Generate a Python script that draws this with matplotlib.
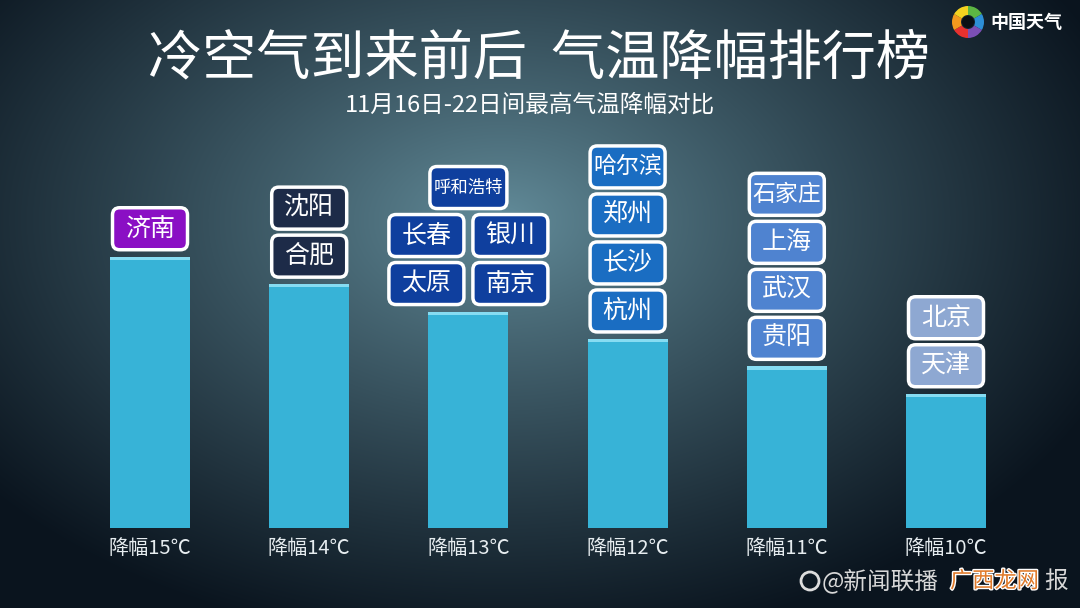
import numpy as np
import matplotlib
matplotlib.use("Agg")
import matplotlib.pyplot as plt
from matplotlib.patches import FancyBboxPatch, Wedge, Circle
import matplotlib.patheffects as pe

plt.rcParams['font.family'] = ['Noto Sans CJK SC', 'DejaVu Sans']

# data
drops = [15, 14, 13, 12, 11, 10]
bottom_labels = ['降幅15℃', '降幅14℃', '降幅13℃', '降幅12℃', '降幅11℃', '降幅10℃']
# city boxes above each bar, rows listed from top to bottom
city_rows = [
    [['济南']],
    [['沈阳'], ['合肥']],
    [['呼和浩特'], ['长春', '银川'], ['太原', '南京']],
    [['哈尔滨'], ['郑州'], ['长沙'], ['杭州']],
    [['石家庄'], ['上海'], ['武汉'], ['贵阳']],
    [['北京'], ['天津']],
]
box_colors = ['#8a0fc4', '#1d2b48', '#0f3f9e', '#1a6dc2', '#4f83d0', '#8ea8d2']

title = '冷空气到来前后  气温降幅排行榜'
subtitle = '11月16日-22日间最高气温降幅对比'

W, H = 1080, 608
fig = plt.figure(figsize=(W / 100, H / 100), dpi=100)

# background radial glow
bg = fig.add_axes([0, 0, 1, 1])
yy, xx = np.mgrid[0:H, 0:W]
d = np.sqrt(((xx - 500) / 660.0) ** 2 + ((yy - 220) / 430.0) ** 2)
t = np.clip(d, 0, 1) ** 0.85
c0 = np.array([100, 142, 156]) / 255.0
c1 = np.array([10, 20, 30]) / 255.0
img = c0[None, None, :] * (1 - t[..., None]) + c1[None, None, :] * t[..., None]
bg.imshow(img, extent=[0, W, H, 0], aspect='auto')
bg.set_xlim(0, W)
bg.set_ylim(H, 0)
bg.axis('off')

# main axes: x = category index, y = degrees
px_x = 159.2   # pixels per category
px_y = 27.4    # pixels per degree
base = 5.1
ax = fig.add_axes([0, 0, 1, 1])
ax.patch.set_alpha(0)
ax.set_xlim(-150 / px_x, (W - 150) / px_x)
ax.set_ylim(base - (H - 528) / px_y, base + 528 / px_y)
ax.axis('off')

x = np.arange(len(drops))
heights = [v - base for v in drops]
bar_w = 80 / px_x
ax.bar(x, heights, bottom=base, width=bar_w, color='#37b3d7', zorder=2)
ax.bar(x, [0.12] * len(drops), bottom=[v - 0.12 for v in drops], width=bar_w,
       color='#86dcf2', zorder=3)

for i, lab in enumerate(bottom_labels):
    ax.text(x[i], base - 20 / px_y, lab, ha='center', va='center',
            fontsize=14.5, color='#e6ecef', zorder=4)

# city boxes, stacked upward from the bar top
box_w = 75 / px_x
box_h = 42 / px_y
gap = 7 / px_y
pitch = 48 / px_y
aspect = px_x / px_y
for i, rows in enumerate(city_rows):
    y0 = drops[i] + gap
    for k, row in enumerate(reversed(rows)):
        yb = y0 + k * pitch
        n = len(row)
        for j, name in enumerate(row):
            if n == 2:
                cx = x[i] + (j - 0.5) * (84 / px_x)
            else:
                cx = x[i]
            bw = box_w if len(name) < 4 else 77 / px_x
            patch = FancyBboxPatch((cx - bw / 2, yb), bw, box_h,
                                   boxstyle='round,pad=0,rounding_size=0.045',
                                   mutation_aspect=aspect,
                                   facecolor=box_colors[i], edgecolor='white',
                                   linewidth=2.5, zorder=5)
            ax.add_patch(patch)
            fs = 12.5 if len(name) >= 4 else (16.5 if len(name) == 3 else 18)
            ax.text(cx, yb + box_h / 2, name, ha='center', va='center',
                    fontsize=fs, color='white', zorder=6)

# titles
fig.text(539 / W, 1 - 59 / H, title, ha='center', va='center', fontsize=39,
         color='white')
fig.text(530 / W, 1 - 105 / H, subtitle, ha='center', va='center',
         fontsize=17, color='white')

# logo top right
la = fig.add_axes([0, 0, 1, 1])
la.patch.set_alpha(0)
la.set_xlim(0, W)
la.set_ylim(H, 0)
la.axis('off')
logo_cols = ['#e8312f', '#f39a1e', '#f4d21f', '#5cb543', '#2d8fd6', '#7b4fb5']
for k, c in enumerate(logo_cols):
    la.add_patch(Wedge((968, 22), 16, 90 + k * 60, 150 + k * 60, width=9,
                       facecolor=c, edgecolor='none'))
la.add_patch(Circle((968, 22), 6, facecolor='#0a0f14', edgecolor='none'))
la.text(990, 22, '中国天气', ha='left', va='center', fontsize=13,
        fontweight='bold', color='white')

# watermark bottom right
la.add_patch(Circle((810, 581), 9, facecolor='none', edgecolor='#dddddd', linewidth=2))
la.text(822, 581, '@新闻联播', ha='left', va='center', fontsize=17,
        color='#d8d8d8')
la.text(950, 581, '广西龙网', ha='left', va='center', fontsize=16,
        color='#e07a2a',
        path_effects=[pe.withStroke(linewidth=2, foreground='white')])
la.text(1044, 581, '报', ha='left', va='center', fontsize=17, color='#d8d8d8')

fig.savefig('out.png', dpi=100)
